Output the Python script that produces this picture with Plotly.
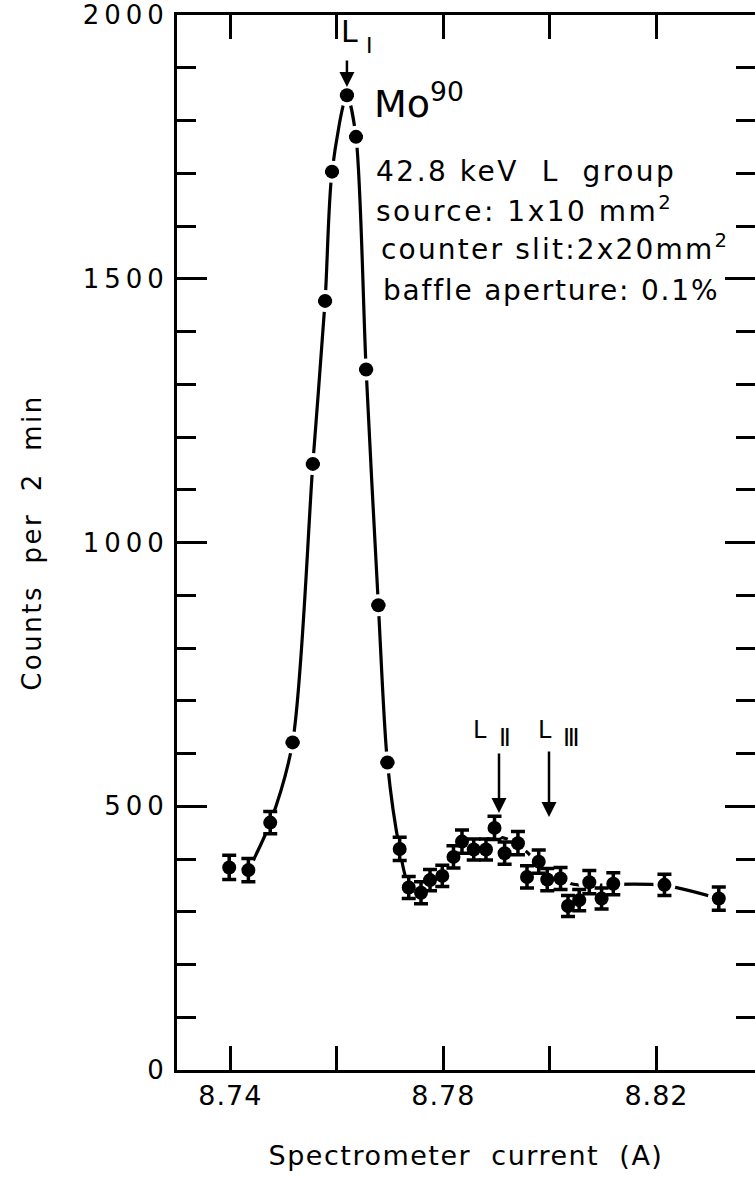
import plotly.graph_objects as go

# ---------------- data ----------------
current = [8.7398, 8.7434, 8.7475, 8.7517, 8.7555, 8.7578, 8.7591, 8.7619, 8.7636,
           8.7655, 8.7678, 8.7695, 8.7718, 8.7735, 8.7758, 8.7775, 8.7798, 8.7819,
           8.7835, 8.7857, 8.7880, 8.7896, 8.7915, 8.7940, 8.7957, 8.7979, 8.7995,
           8.8020, 8.8034, 8.8055, 8.8074, 8.8097, 8.8119, 8.8215, 8.8317]
counts = [384, 379, 469, 621, 1149, 1458, 1703, 1848, 1769,
          1328, 881, 583, 419, 346, 336, 360, 368, 404,
          433, 418, 418, 459, 411, 430, 366, 395, 361,
          363, 311, 322, 356, 325, 353, 351, 325]
errors = [23, 22, 21, 0, 0, 0, 0, 0, 0,
          0, 0, 0, 22, 21, 21, 20, 20, 21,
          22, 20, 20, 22, 21, 22, 21, 22, 21,
          21, 20, 20, 22, 20, 21, 20, 22]

# hand-drawn guide curve
curve_current = [8.7434, 8.7475, 8.7517, 8.7555, 8.7578, 8.7591, 8.7619, 8.7636,
                 8.7655, 8.7678, 8.7695, 8.7718, 8.7735, 8.7758, 8.7780, 8.7800,
                 8.7820, 8.7840, 8.7860, 8.7880, 8.7900, 8.7920, 8.7940, 8.7960,
                 8.7980, 8.8000, 8.8030, 8.8060, 8.8090, 8.8120, 8.8215, 8.8317]
curve_counts = [379, 469, 621, 1149, 1458, 1703, 1848, 1769,
                1328, 881, 583, 419, 352, 343, 356, 380,
                405, 422, 432, 437, 442, 438, 428, 410,
                388, 370, 356, 350, 350, 352, 350, 325]

y_tickvals = [0, 500, 1000, 1500, 2000]
y_ticktext = ["0", "500", "1000", "1500", "2000"]
x_tickvals = [8.74, 8.78, 8.82]
x_ticktext = ["8.74", "8.78", "8.82"]

# ---------------- geometry ----------------
W, H = 755, 1180
ML, MR, MT, MB = 177, 0, 15, 110
x_range = [8.73, 8.8385]
y_range = [0, 2000]
FONT = "DejaVu Sans"


def dx(px):
    return x_range[0] + (px - ML) / (W - ML - MR) * (x_range[1] - x_range[0])


def dy(py):
    return y_range[0] + (H - MB - py) / (H - MT - MB) * (y_range[1] - y_range[0])


def spaced(t, s):
    return f'<span style="letter-spacing:{s}px">{t}</span>'


fig = go.Figure()

# invisible trace to carry right-hand tick axis
fig.add_trace(go.Scatter(x=current, y=counts, yaxis="y2", mode="markers",
                         marker=dict(opacity=0), hoverinfo="skip", showlegend=False))

fig.add_trace(go.Scatter(x=curve_current, y=curve_counts, mode="lines",
                         line=dict(color="black", width=3.2, shape="spline", smoothing=0.8),
                         hoverinfo="skip", showlegend=False))

fig.add_trace(go.Scatter(x=current, y=counts, mode="markers",
                         marker=dict(color="white", size=22), hoverinfo="skip",
                         showlegend=False))

fig.add_trace(go.Scatter(x=current, y=counts, mode="markers",
                         marker=dict(color="black", size=14),
                         error_y=dict(type="data", array=errors, visible=True,
                                      color="black", thickness=3.5, width=7),
                         showlegend=False))

axis_common = dict(showgrid=False, zeroline=False, color="black",
                   linecolor="black", linewidth=3, tickcolor="black", tickwidth=3)

fig.update_layout(
    width=W, height=H,
    margin=dict(l=ML, r=MR, t=MT, b=MB, autoexpand=False),
    paper_bgcolor="white", plot_bgcolor="white",
    font=dict(family=FONT, color="black"),
    xaxis=dict(range=x_range, showline=True, mirror="ticks", ticks="inside",
               ticklen=15, tickmode="array", tickvals=x_tickvals,
               ticktext=[spaced(t, 1) for t in x_ticktext],
               tickfont=dict(size=27, family=FONT),
               minor=dict(ticks="inside", ticklen=24, dtick=0.02, tick0=8.74,
                          tickcolor="black", tickwidth=3),
               title=dict(text=spaced("Spectrometer  current  (A)", 1.5),
                          font=dict(size=27, family=FONT), standoff=36),
               **axis_common),
    yaxis=dict(range=y_range, showline=True, mirror=False, ticks="inside",
               ticklen=30, tickmode="array", tickvals=y_tickvals,
               ticktext=[spaced(t, 5) for t in y_ticktext],
               tickfont=dict(size=26, family=FONT),
               minor=dict(ticks="inside", ticklen=19, dtick=100, tick0=0,
                          tickcolor="black", tickwidth=3),
               title=dict(text=spaced("Counts  per  2  min", 2.5),
                          font=dict(size=26, family=FONT), standoff=34),
               **axis_common),
    yaxis2=dict(range=y_range, overlaying="y", side="right", matches="y",
                showline=False, ticks="inside", ticklen=30, tickmode="array",
                tickvals=y_tickvals, showticklabels=False,
                minor=dict(ticks="inside", ticklen=19, dtick=100, tick0=0,
                           tickcolor="black", tickwidth=3),
                showgrid=False, zeroline=False, tickcolor="black", tickwidth=3),
)


def label(text, px, py, size, anchor="left"):
    return dict(text=text, x=dx(px), y=dy(py), xref="x", yref="y", xanchor=anchor,
                yanchor="middle", showarrow=False,
                font=dict(family=FONT, size=size, color="black"))


annotations = [
    label("Mo<sup>90</sup>", 372, 101, 38),
    label(spaced("42.8 keV\u00a0\u00a0L\u00a0\u00a0group", 2.5), 374, 171, 28),
    label(spaced("source:\u00a01x10\u00a0mm", 2.5) + "<sup>2</sup>", 374, 209, 28),
    label(spaced("counter slit:2x20mm", 2.2) + "<sup>2</sup>", 379, 247, 28),
    label(spaced("baffle aperture: 0.1%", 1.8), 381, 290, 28),
    # L labels
    label("L", 339, 31, 30),
    label("\u2160", 364, 45, 22),
    label("L", 471, 730, 24),
    label("\u2161", 497, 738, 24),
    label("L", 536, 730, 24),
    label("\u2162", 561, 738, 24),
]

arrow = dict(xref="x", yref="y", text="", showarrow=True, arrowhead=2, arrowsize=1.2,
             arrowwidth=2.5, arrowcolor="black", ax=0, axref="pixel", ayref="pixel", standoff=0)
annotations += [
    dict(x=current[7], y=dy(87), ay=-28, **arrow),
    dict(x=dx(499), y=dy(813), ay=-61, **arrow),
    dict(x=dx(549), y=dy(817), ay=-67, **arrow),
]
fig.update_layout(annotations=annotations)

fig.write_html("out.html")
